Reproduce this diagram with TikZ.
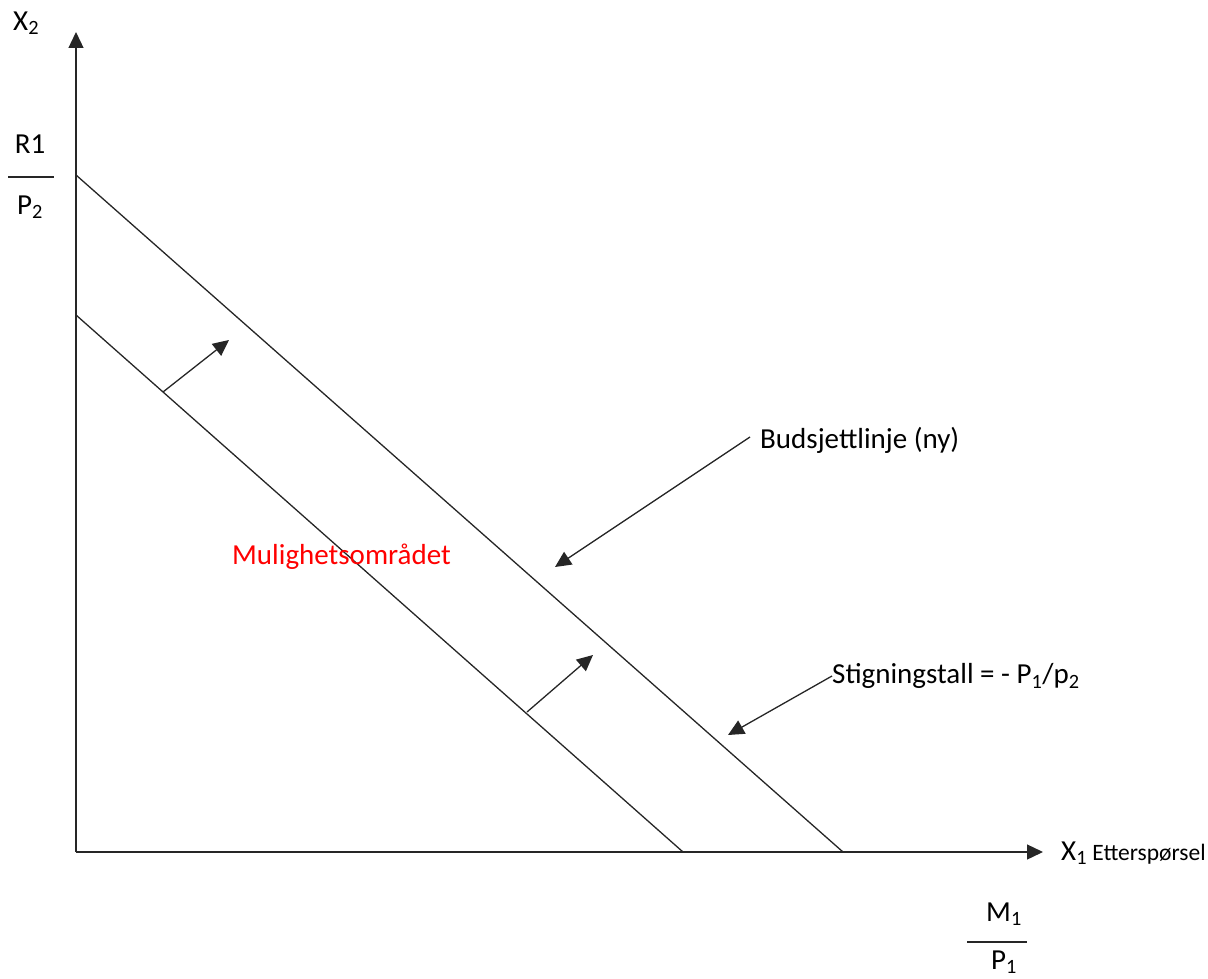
\documentclass[tikz,border=0pt]{standalone}
\usepackage{fontspec}
\setmainfont{Carlito}
\usetikzlibrary{arrows.meta}
\begin{document}
\begin{tikzpicture}[x=1pt,y=-1pt,
  ln/.style={line width=1.3pt,draw=black!85},
  arr/.style={ln,-{Triangle[width=15pt,length=16pt]}},
  lbl/.style={font=\fontsize{29}{32}\selectfont,inner sep=0pt},
  sm/.style={font=\fontsize{23.5}{28}\selectfont,inner sep=0pt}]
\useasboundingbox (0,0) rectangle (1208,979);
% axes
\coordinate (O) at (76,852);
\coordinate (Ytop) at (76,32);
\coordinate (Xend) at (1043,852);
\draw[arr] (O) -- (Ytop);
\draw[arr] (O) -- (Xend);
% budget lines
\coordinate (A1) at (76,175);
\coordinate (B1) at (843,852);
\coordinate (A0) at (76,315);
\coordinate (B0) at (683,852);
\draw[ln] (A1) -- (B1);
\draw[ln] (A0) -- (B0);
% shift arrows
\coordinate (s1) at (163,392);
\coordinate (e1) at (229,340);
\coordinate (s2) at (527,712);
\coordinate (e2) at (593,655);
\draw[arr] (s1) -- (e1);
\draw[arr] (s2) -- (e2);
% labels
\node[lbl,anchor=west] (x2) at (13,23) {X\textsubscript{2}};
\node[lbl] (r1) at (30,144) {R1};
\draw[ln] (8,177) -- (54,177);
\node[lbl] (p2) at (30,207) {P\textsubscript{2}};
\node[lbl,anchor=west] (x1) at (1061,853) {X\textsubscript{1}{\fontsize{23.5}{28}\selectfont\ Etterspørsel}};
\node[lbl] (m1) at (1004,914) {M\textsubscript{1}};
\draw[ln] (967,942) -- (1027,942);
\node[lbl] (p1) at (1004,962) {P\textsubscript{1}};
\node[lbl,text=red,anchor=west] (mul) at (232,557) {Mulighetsområdet};
\node[lbl,anchor=west] (bud) at (760,440) {Budsjettlinje (ny)};
\node[lbl,anchor=west] (sti) at (832,676) {Stigningstall = - P\textsubscript{1}/p\textsubscript{2}};
\draw[arr] (bud.west) ++(-10,-3) coordinate (bs) -- (555,567);
\draw[arr] (sti.west) coordinate (ss) -- (728,735);
\end{tikzpicture}
\end{document}
